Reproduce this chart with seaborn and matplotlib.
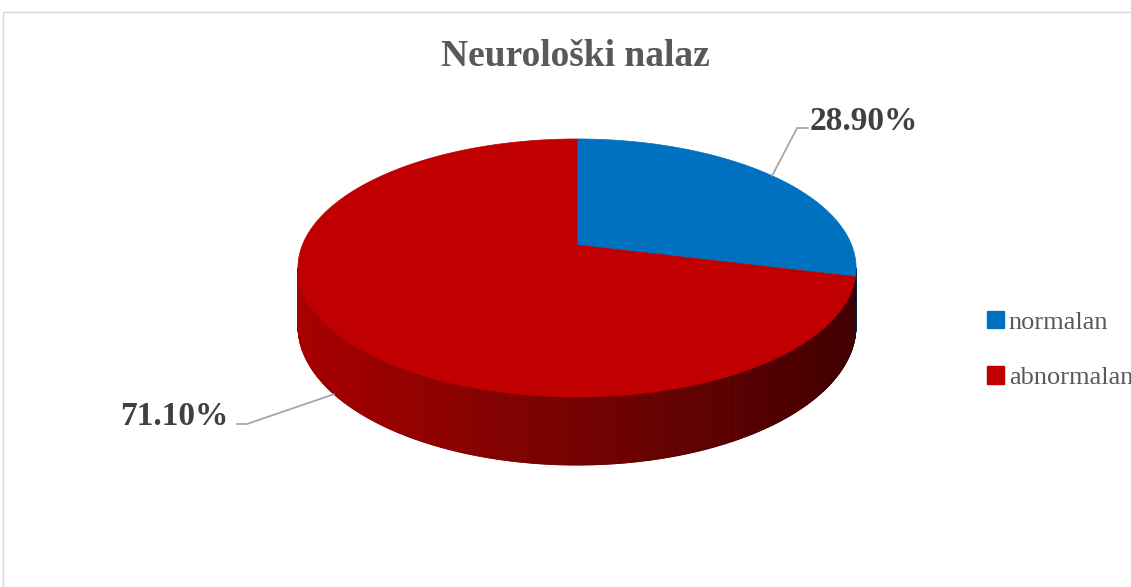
import numpy as np
import matplotlib
matplotlib.use("Agg")
import matplotlib.pyplot as plt
from matplotlib.collections import PolyCollection
from matplotlib.patches import Patch, Rectangle
import seaborn as sns

# Data
categories = ["normalan", "abnormalan"]
shares = [28.90, 71.10]
slice_colors = ["#0070C0", "#C00000"]
title = "Neurološki nalaz"

sns.set_theme(style="white")
plt.rcParams["font.family"] = ["Liberation Serif", "DejaVu Serif"]

W, H_PX = 1131, 587
fig = plt.figure(figsize=(W / 100, H_PX / 100), dpi=100)
ax = fig.add_axes([0, 0, 1, 1])
ax.set_xlim(0, W)
ax.set_ylim(H_PX, 0)
ax.axis("off")

# Perspective disc geometry (screen pixels)
cx, cy = 577.0, 245.0      # apex of the pie on screen
A, B = 274.6, 124.9        # horizontal / depth radii
k = 0.178                  # perspective strength
depth = 56.0               # thickness of the disc


def project(t, h=0.0):
    X, Y = np.cos(t), np.sin(t)
    w = 1.0 + k * Y
    return cx + A * X / w, cy - B * Y / w + depth * h / w


# angle ranges (radians, counter-clockwise), slices run clockwise from 12 o'clock
total = float(sum(shares))
bounds = []
start = np.pi / 2
for v in shares:
    span = 2 * np.pi * v / total
    bounds.append((start - span, start))
    start -= span

# visible side wall lies between the two silhouette points
t_sil = np.arcsin(k)
vis_lo, vis_hi = np.pi + t_sil, 2 * np.pi - t_sil


def shade(rgb, x):
    f = (x - (cx - A * 1.016)) / (2 * A * 1.016)
    f = np.clip(f, 0, 1)
    s = 0.875 * (1 - f) + 0.34 * f
    return tuple(np.clip(np.array(rgb) * s, 0, 1))


# side wall
for (t0, t1), col in zip(bounds, slice_colors):
    rgb = matplotlib.colors.to_rgb(col)
    for off in (-2 * np.pi, 0, 2 * np.pi):
        a, b = max(t0 + off, vis_lo), min(t1 + off, vis_hi)
        if b <= a:
            continue
        ts = np.linspace(a, b, max(int((b - a) / 0.004), 2))
        polys, cols = [], []
        for i in range(len(ts) - 1):
            x0, y0 = project(ts[i])
            x1, y1 = project(ts[i + 1])
            x0b, y0b = project(ts[i], 1)
            x1b, y1b = project(ts[i + 1], 1)
            polys.append([(x0, y0), (x1, y1), (x1b, y1b), (x0b, y0b)])
            cols.append(shade(rgb, 0.5 * (x0 + x1)))
        ax.add_collection(PolyCollection(polys, facecolors=cols, edgecolors=cols,
                                         linewidths=0.6, zorder=2))

# top face
for (t0, t1), col in zip(bounds, slice_colors):
    ts = np.linspace(t0, t1, 400)
    xs, ys = project(ts)
    px = np.concatenate([[cx], xs])
    py = np.concatenate([[cy], ys])
    ax.fill(px, py, facecolor=col, edgecolor=col, linewidth=0.5, zorder=3)

# data labels with leader lines
line_col = "#A6A6A6"
label_col = "#404040"
# normalan: anchor on top rim, label up-right
tm = 0.5 * (bounds[0][0] + bounds[0][1])
axx, axy = project(tm)
ax.plot([axx, axx + 25, axx + 36], [axy, 128, 128], color=line_col, lw=1.3, zorder=4)
ax.text(axx + 38, 130, f"{shares[0]:.2f}%", ha="left", va="baseline",
        fontsize=24, fontweight="bold", color=label_col, zorder=5)
# abnormalan: anchor on bottom rim, label down-left
tm = 0.5 * (bounds[1][0] + bounds[1][1])
bxx, bxy = project(tm, 1)
ax.plot([bxx, bxx - 87, bxx - 97], [bxy, 424, 424], color=line_col, lw=1.3, zorder=4)
ax.text(bxx - 105, 425, f"{shares[1]:.2f}%", ha="right", va="baseline",
        fontsize=24, fontweight="bold", color=label_col, zorder=5)

# title
ax.text(575, 57, title, ha="center", va="center", fontsize=27,
        fontweight="bold", color="#595959")

# legend
handles = [Patch(facecolor=c, edgecolor=c) for c in slice_colors]
leg = ax.legend(handles, categories, loc="center left",
                bbox_to_anchor=(987 / W, 1 - 350 / H_PX), frameon=False,
                fontsize=19, handlelength=0.64, handleheight=0.64,
                handletextpad=0.19, labelspacing=1.23, borderpad=0,
                borderaxespad=0)
for t in leg.get_texts():
    t.set_color("#595959")

# chart area border
fig.add_artist(Rectangle((3 / W, -0.1), 1.2, 1 - 12 / H_PX + 0.1,
                         transform=fig.transFigure, fill=False,
                         edgecolor="#D9D9D9", linewidth=1.0))

fig.savefig("out.png", dpi=100)
